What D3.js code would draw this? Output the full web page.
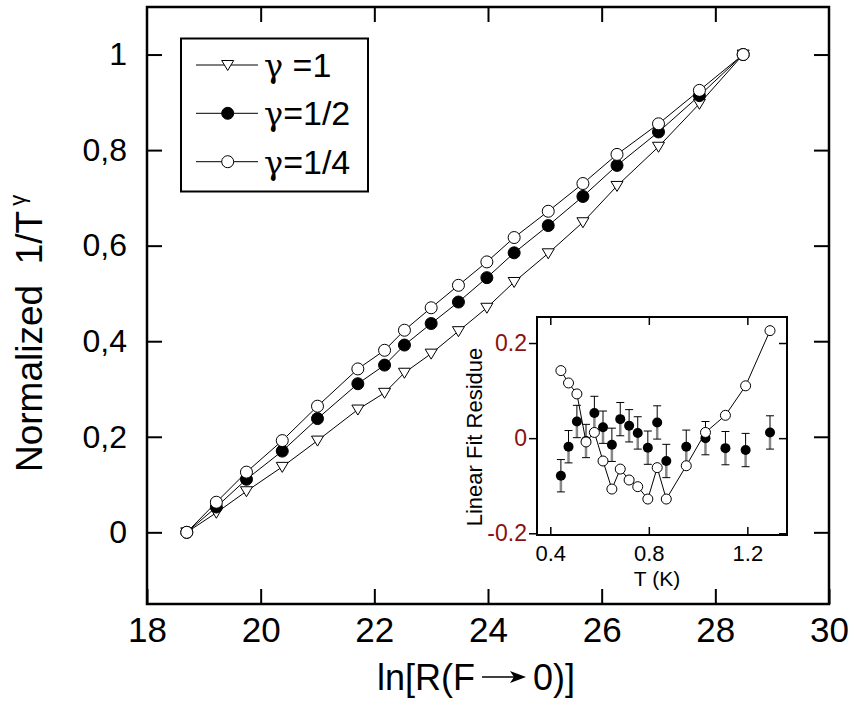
<!DOCTYPE html>
<html><head><meta charset="utf-8">
<script src="https://cdn.jsdelivr.net/npm/d3@7"></script>
<style>body{margin:0;background:#fff;} svg{display:block;font-family:"Liberation Sans",Arial,sans-serif;}</style>
</head><body><svg id="c" width="855" height="709"></svg>
<script>
// ---- main panel data ----
const lnR = [18.70, 19.22, 19.75, 20.38, 21.00, 21.71, 22.18, 22.53, 23.00, 23.48, 23.98, 24.46, 25.06, 25.67, 26.27, 27.00, 27.72, 28.49];
const yGamma1 =       [0, 0.041, 0.086, 0.137, 0.192, 0.257, 0.292, 0.334, 0.374, 0.421, 0.470, 0.524, 0.584, 0.649, 0.725, 0.807, 0.897, 1.0];
const yGammaHalf =    [0, 0.053, 0.111, 0.170, 0.238, 0.311, 0.350, 0.392, 0.437, 0.482, 0.533, 0.585, 0.642, 0.703, 0.768, 0.838, 0.914, 1.0];
const yGammaQuarter = [0, 0.063, 0.126, 0.192, 0.264, 0.342, 0.381, 0.423, 0.470, 0.517, 0.566, 0.617, 0.672, 0.730, 0.791, 0.855, 0.925, 1.0];
const xTicks = [18, 20, 22, 24, 26, 28, 30];
const yTicks = [0, 0.2, 0.4, 0.6, 0.8, 1];
const yTickLabels = ["0", "0,2", "0,4", "0,6", "0,8", "1"];
const legendLabels = [" =1", "=1/2", "=1/4"];

// ---- inset data ----
const insetT = [0.443, 0.474, 0.508, 0.545, 0.579, 0.614, 0.650, 0.684, 0.720, 0.755, 0.796, 0.834, 0.871, 0.952, 1.030, 1.111, 1.193, 1.292];
const residOpen =   [0.142, 0.116, 0.093, -0.008, 0.012, -0.048, -0.107, -0.065, -0.088, -0.102, -0.128, -0.062, -0.128, -0.058, 0.012, 0.048, 0.110, 0.226];
const residFilled = [-0.079, -0.018, 0.035, -0.006, 0.053, 0.023, -0.014, 0.040, 0.026, 0.011, -0.020, 0.033, -0.048, -0.018, 0.000, -0.021, -0.025, 0.012];
const residErr =    [0.034, 0.034, 0.034, 0.035, 0.035, 0.034, 0.035, 0.035, 0.034, 0.034, 0.035, 0.035, 0.035, 0.035, 0.035, 0.035, 0.035, 0.035];
const insetXTicks = [0.4, 0.8, 1.2];
const insetYTicks = [-0.2, 0, 0.2];
const insetYTickLabels = ["-0.2", "0", "0.2"];

const svg = d3.select("#c");

// ---------- main panel ----------
const M = {l: 147, r: 829, t: 7, b: 604};
const x = d3.scaleLinear().domain([18, 30]).range([M.l, M.r]);
const y = d3.scaleLinear().domain([-0.15, 1.0995]).range([M.b, M.t]);

const g = svg.append("g");
g.append("rect").attr("x", M.l).attr("y", M.t).attr("width", M.r - M.l).attr("height", M.b - M.t)
  .attr("fill", "none").attr("stroke", "#000").attr("stroke-width", 2.5);

const tl = 15;
g.append("g").attr("transform", `translate(0,${M.b})`)
  .call(d3.axisBottom(x).tickValues(xTicks).tickSizeInner(-tl).tickSizeOuter(0).tickPadding(13).tickFormat(d3.format("d")))
  .call(a => { a.select(".domain").remove(); a.selectAll("line").attr("stroke-width", 2);
    a.selectAll("text").attr("font-size", 35).attr("font-family", "Liberation Sans, Arial").attr("fill", "#000"); });
g.append("g").attr("transform", `translate(0,${M.t})`)
  .call(d3.axisTop(x).tickValues(xTicks.slice(1, -1)).tickSizeInner(-tl).tickSizeOuter(0).tickFormat(""))
  .call(a => { a.select(".domain").remove(); a.selectAll("line").attr("stroke-width", 2); });
g.append("g").attr("transform", `translate(${M.l},0)`)
  .call(d3.axisLeft(y).tickValues(yTicks).tickSizeInner(-tl).tickSizeOuter(0).tickPadding(20)
    .tickFormat((d, i) => yTickLabels[i]))
  .call(a => { a.select(".domain").remove(); a.selectAll("line").attr("stroke-width", 2);
    a.selectAll("text").attr("font-size", 32).attr("font-family", "Liberation Sans, Arial").attr("fill", "#000"); });
g.append("g").attr("transform", `translate(${M.r},0)`)
  .call(d3.axisRight(y).tickValues(yTicks).tickSizeInner(-tl).tickSizeOuter(0).tickFormat(""))
  .call(a => { a.select(".domain").remove(); a.selectAll("line").attr("stroke-width", 2); });

// axis titles
const yl = svg.append("text").attr("transform", "translate(42,472) rotate(-90)")
  .attr("font-size", 37).attr("fill", "#000");
yl.append("tspan").text("Normalized\u00a0\u00a01/T");
yl.append("tspan").attr("font-size", 22).attr("dy", -17).attr("dx", 5).text("γ");

const xlY = 690;
const xl1 = svg.append("text").attr("x", 377).attr("y", xlY).attr("font-size", 36).text("ln[R(F");
const w1 = xl1.node().getComputedTextLength();
const ax0 = 377 + w1 + 7, ax1 = ax0 + 44;
const ay = xlY - 13;
svg.append("line").attr("x1", ax0).attr("x2", ax1 - 10).attr("y1", ay).attr("y2", ay).attr("stroke", "#000").attr("stroke-width", 1.5);
svg.append("path").attr("d", `M${ax1},${ay} L${ax1 - 16},${ay - 6} L${ax1 - 12},${ay} L${ax1 - 16},${ay + 6} Z`).attr("fill", "#000");
svg.append("text").attr("x", ax1 + 7).attr("y", xlY).attr("font-size", 36).text("0)]");

// series
const line = d3.line().x(d => x(d[0])).y(d => y(d[1]));
const tri = "M0,5.5 L-6,-4.5 L6,-4.5 Z";
const series = [
  {vals: yGamma1, type: "tri"},
  {vals: yGammaHalf, type: "filled"},
  {vals: yGammaQuarter, type: "open"}
];
series.forEach(s => {
  const pts = lnR.map((v, i) => [v, s.vals[i]]);
  g.append("path").attr("d", line(pts)).attr("fill", "none").attr("stroke", "#000").attr("stroke-width", 1);
});
series.forEach(s => {
  const pts = lnR.map((v, i) => [v, s.vals[i]]);
  if (s.type === "tri") {
    g.selectAll(null).data(pts).enter().append("path").attr("d", tri)
      .attr("transform", d => `translate(${x(d[0])},${y(d[1])})`)
      .attr("fill", "#fff").attr("stroke", "#000").attr("stroke-width", 1);
  } else {
    g.selectAll(null).data(pts).enter().append("circle")
      .attr("cx", d => x(d[0])).attr("cy", d => y(d[1])).attr("r", 6)
      .attr("fill", s.type === "filled" ? "#000" : "#fff").attr("stroke", "#000").attr("stroke-width", 1);
  }
});

// legend
const L = svg.append("g");
L.append("rect").attr("x", 181).attr("y", 38.5).attr("width", 187).attr("height", 153)
  .attr("fill", "#fff").attr("stroke", "#000").attr("stroke-width", 2);
const rows = [65, 113.3, 161.7];
series.forEach((s, i) => {
  const ry = rows[i];
  L.append("line").attr("x1", 196).attr("x2", 258).attr("y1", ry).attr("y2", ry).attr("stroke", "#000").attr("stroke-width", 1);
  if (s.type === "tri") L.append("path").attr("d", tri).attr("transform", `translate(227.7,${ry})`).attr("fill", "#fff").attr("stroke", "#000");
  else L.append("circle").attr("cx", 227.7).attr("cy", ry).attr("r", 6).attr("fill", s.type === "filled" ? "#000" : "#fff").attr("stroke", "#000");
  const t = L.append("text").attr("x", 264).attr("y", ry + 12).attr("font-size", 34);
  t.append("tspan").attr("font-family", "DejaVu Serif, serif").attr("font-size", 32).text("γ");
  t.append("tspan").text(legendLabels[i]);
});

// ---------- inset ----------
const I = {l: 537, r: 787, t: 317, b: 535};
const xi = d3.scaleLinear().domain([0.346, 1.361]).range([I.l, I.r]);
const yi = d3.scaleLinear().domain([-0.2036, 0.2547]).range([I.b, I.t]);
const gi = svg.append("g");
gi.append("rect").attr("x", I.l).attr("y", I.t).attr("width", I.r - I.l).attr("height", I.b - I.t)
  .attr("fill", "#fff").attr("stroke", "#000").attr("stroke-width", 2);
const itl = 8;
gi.append("g").attr("transform", `translate(0,${I.b})`)
  .call(d3.axisBottom(xi).tickValues(insetXTicks).tickSizeInner(-itl).tickSizeOuter(0).tickPadding(10).tickFormat(d3.format(".1f")))
  .call(a => { a.select(".domain").remove(); a.selectAll("line").attr("stroke-width", 1.5);
    a.selectAll("text").attr("font-size", 22).attr("font-family", "Liberation Sans, Arial").attr("fill", "#000"); });
gi.append("g").attr("transform", `translate(0,${I.t})`)
  .call(d3.axisTop(xi).tickValues(insetXTicks).tickSizeInner(-itl).tickSizeOuter(0).tickFormat(""))
  .call(a => { a.select(".domain").remove(); a.selectAll("line").attr("stroke-width", 1.5); });
gi.append("g").attr("transform", `translate(${I.l},0)`)
  .call(d3.axisLeft(yi).tickValues(insetYTicks).tickSizeInner(itl).tickSizeOuter(0).tickPadding(2).tickFormat((d, i) => insetYTickLabels[i]))
  .call(a => { a.select(".domain").remove(); a.selectAll("line").attr("stroke-width", 1.5);
    a.selectAll("text").attr("font-size", 23).attr("font-family", "Liberation Sans, Arial").attr("fill", "#8b1010"); });
gi.append("g").attr("transform", `translate(${I.r},0)`)
  .call(d3.axisRight(yi).tickValues(insetYTicks).tickSizeInner(-itl).tickSizeOuter(0).tickFormat(""))
  .call(a => { a.select(".domain").remove(); a.selectAll("line").attr("stroke-width", 1.5); });

svg.append("text").attr("x", 657).attr("y", 586).attr("text-anchor", "middle").attr("font-size", 21).text("T (K)");
svg.append("text").attr("transform", "translate(482,437) rotate(-90)").attr("text-anchor", "middle")
  .attr("font-size", 22).text("Linear Fit Residue");

// open series line + markers
const openPts = insetT.map((t, i) => [t, residOpen[i]]);
gi.append("path").attr("d", d3.line().x(d => xi(d[0])).y(d => yi(d[1]))(openPts))
  .attr("fill", "none").attr("stroke", "#000").attr("stroke-width", 1);
// filled with error bars
const filledPts = insetT.map((t, i) => ({t, r: residFilled[i], e: residErr[i]}));
filledPts.forEach(d => {
  const cx = xi(d.t);
  gi.append("line").attr("x1", cx).attr("x2", cx).attr("y1", yi(d.r)).attr("y2", yi(d.r - d.e)).attr("stroke", "#888").attr("stroke-width", 2.5);
  gi.append("line").attr("x1", cx).attr("x2", cx).attr("y1", yi(d.r)).attr("y2", yi(d.r + d.e)).attr("stroke", "#000").attr("stroke-width", 1);
  [d.r - d.e, d.r + d.e].forEach(v => gi.append("line").attr("x1", cx - 4).attr("x2", cx + 4).attr("y1", yi(v)).attr("y2", yi(v)).attr("stroke", "#000").attr("stroke-width", 1));
});
gi.selectAll(null).data(filledPts).enter().append("circle")
  .attr("cx", d => xi(d.t)).attr("cy", d => yi(d.r)).attr("r", 5).attr("fill", "#000");
gi.selectAll(null).data(openPts).enter().append("circle")
  .attr("cx", d => xi(d[0])).attr("cy", d => yi(d[1])).attr("r", 5)
  .attr("fill", "#fff").attr("stroke", "#000").attr("stroke-width", 1);
</script></body></html>
